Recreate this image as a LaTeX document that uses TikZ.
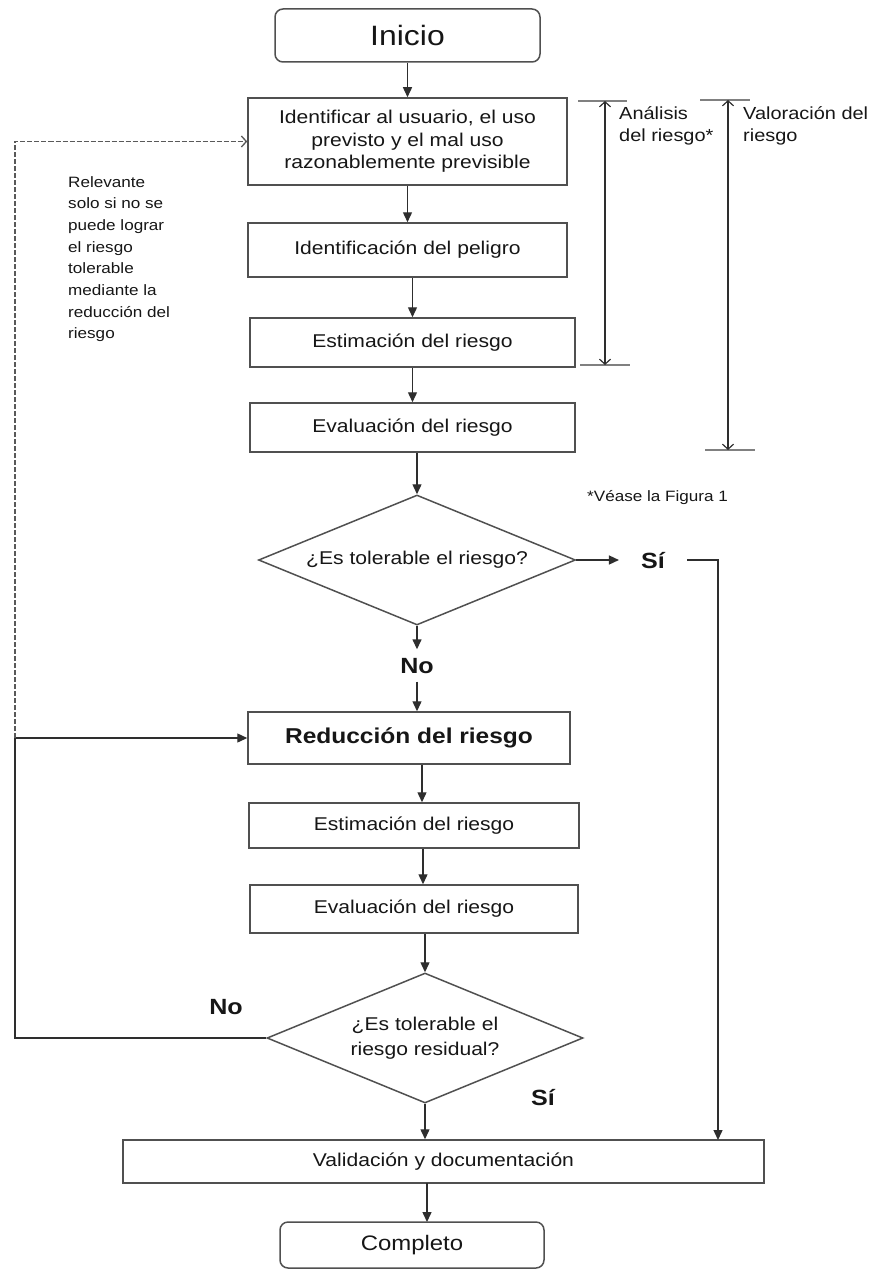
\documentclass[tikz,border=0pt]{standalone}
\usepackage{fontspec}
\setmainfont{Liberation Sans}[FakeStretch=1.14]
\usetikzlibrary{shapes.geometric,arrows.meta}
\newcommand\myfs[2]{\fontsize{#1}{#2}\selectfont}
\definecolor{boxc}{HTML}{505050}
\definecolor{linec}{HTML}{2E2E2E}
\definecolor{txt}{HTML}{161616}
\begin{document}
\begin{tikzpicture}[x=1pt,y=-1pt,
  box/.style={draw=boxc, line width=1.5pt, rectangle, inner sep=0pt, align=center, text=txt, font=\myfs{18.5}{22.5}},
  term/.style={box, rounded corners=8pt},
  dec/.style={draw=boxc, line width=1.5pt, diamond, shape aspect=2.43, inner sep=0pt, align=center, text=txt, font=\myfs{18.5}{25}},
  lbl/.style={text=txt, font=\bfseries\myfs{22}{24}},
  note/.style={text=txt, align=left, inner sep=0pt},
  arr/.style={draw=linec, line width=1.4pt, -{Triangle[length=10pt,width=9pt]}},
  ln/.style={draw=linec, line width=1.4pt},
  dimarr/.style={draw=linec, line width=1.2pt, {Straight Barb[length=5pt,width=11pt]}-{Straight Barb[length=5pt,width=11pt]}},
  tick/.style={draw=gray, line width=1.2pt},
  dsh/.style={draw=gray!70!black, line width=1.3pt, dash pattern=on 5pt off 2pt, -{Straight Barb[length=5pt,width=11pt]}}
]
\useasboundingbox (0,0) rectangle (875,1271);

% main nodes
\node[term, minimum width=265pt, minimum height=53pt, font=\myfs{28}{30}] (ini) at (407.5,35.5) {Inicio};
\node[box, minimum width=319pt, minimum height=87pt] (b1) at (407.5,141.5) {Identificar al usuario, el uso\\previsto y el mal uso\\razonablemente previsible};
\node[box, minimum width=319pt, minimum height=54pt] (b2) at (407.5,250) {Identificación del peligro};
\node[box, minimum width=325pt, minimum height=49pt] (b3) at (412.5,342.5) {Estimación del riesgo};
\node[box, minimum width=325pt, minimum height=49pt] (b4) at (412.5,427.5) {Evaluación del riesgo};
\node[dec, minimum width=317pt, minimum height=130pt] (d1) at (417,560) {¿Es tolerable el riesgo?};
\node[lbl, inner ysep=8pt, inner xsep=2pt, text height=16pt, text depth=0pt] (no1) at (417,665.5) {No};
\node[lbl, inner xsep=22pt, inner ysep=2pt, text height=16pt, text depth=0pt] (si1) at (653,560) {Sí};
\node[box, minimum width=322pt, minimum height=52pt, font=\bfseries\myfs{21.5}{24}] (red) at (409,738) {Reducción del riesgo};
\node[box, minimum width=330pt, minimum height=45pt] (e2) at (414,825.5) {Estimación del riesgo};
\node[box, minimum width=328pt, minimum height=48pt] (v2) at (414,909) {Evaluación del riesgo};
\node[dec, minimum width=316pt, minimum height=130pt] (d2) at (425,1038) {¿Es tolerable el\\riesgo residual?};
\node[lbl] (no2) at (226,1007) {No};
\node[lbl] (si2) at (543,1098) {Sí};
\node[box, minimum width=641pt, minimum height=43pt] (val) at (443.5,1161.5) {Validación y documentación};
\node[term, minimum width=264pt, minimum height=46pt, font=\myfs{21}{24}] (comp) at (412,1245) {Completo};

% annotations
\node[note, anchor=north west, font=\myfs{15}{21.7}] (rel) at (68,176) {Relevante\\solo si no se\\puede lograr\\el riesgo\\tolerable\\mediante la\\reducción del\\riesgo};
\node[note, anchor=north west, font=\myfs{17.5}{22}] (ana) at (619,106) {Análisis\\del riesgo*};
\node[note, anchor=north west, font=\myfs{17.5}{22}] (valo) at (743,106) {Valoración del\\riesgo};
\node[note, anchor=west, font=\myfs{15}{18}] (vease) at (587,498) {*Véase la Figura 1};

% main flow
\draw[arr] (ini.south) -- (ini.south |- b1.north);
\draw[arr] (b1.south) -- (b1.south |- b2.north);
\draw[arr] (b3.north |- b2.south) -- (b3.north);
\draw[arr] (b3.south) -- (b3.south |- b4.north);
\draw[arr] (d1.north |- b4.south) -- (d1.north);
\draw[arr] (d1.south) -- (no1.north);
\draw[arr] (no1.south) -- (no1.south |- red.north);
\draw[arr] ([xshift=13pt]red.south) -- ([xshift=13pt]red.south |- e2.north);
\draw[arr] ([xshift=9pt]e2.south) -- ([xshift=9pt]e2.south |- v2.north);
\draw[arr] (d2.north |- v2.south) -- (d2.north);
\draw[arr] (d2.south) -- (d2.south |- val.north);
\coordinate (vb) at (427,1183);
\coordinate (ct) at (427,1222);
\draw[arr] (vb) -- (ct);
\draw[arr] (d1.east) -- (si1.west);
\coordinate (vr) at (718,1140);
\draw[ln, -{Triangle[length=10pt,width=9pt]}] (si1.east) -| (vr);

% loops on the left
\coordinate (lc) at (15,738);
\draw[ln] (d2.west) -| (lc);
\draw[arr] (lc) -- (red.west);
\draw[dsh] (lc) |- (b1.west);

% dimension lines
\coordinate (at1) at (605,101);
\coordinate (ab1) at (605,365);
\draw[tick] (578,101) -- (627,101);
\draw[tick] (580,365) -- (630,365);
\draw[dimarr] (at1) -- (ab1);
\coordinate (vt1) at (728,100);
\coordinate (vb1) at (728,450);
\draw[tick] (700,100) -- (750,100);
\draw[tick] (705,450) -- (755,450);
\draw[dimarr] (vt1) -- (vb1);
\end{tikzpicture}
\end{document}
